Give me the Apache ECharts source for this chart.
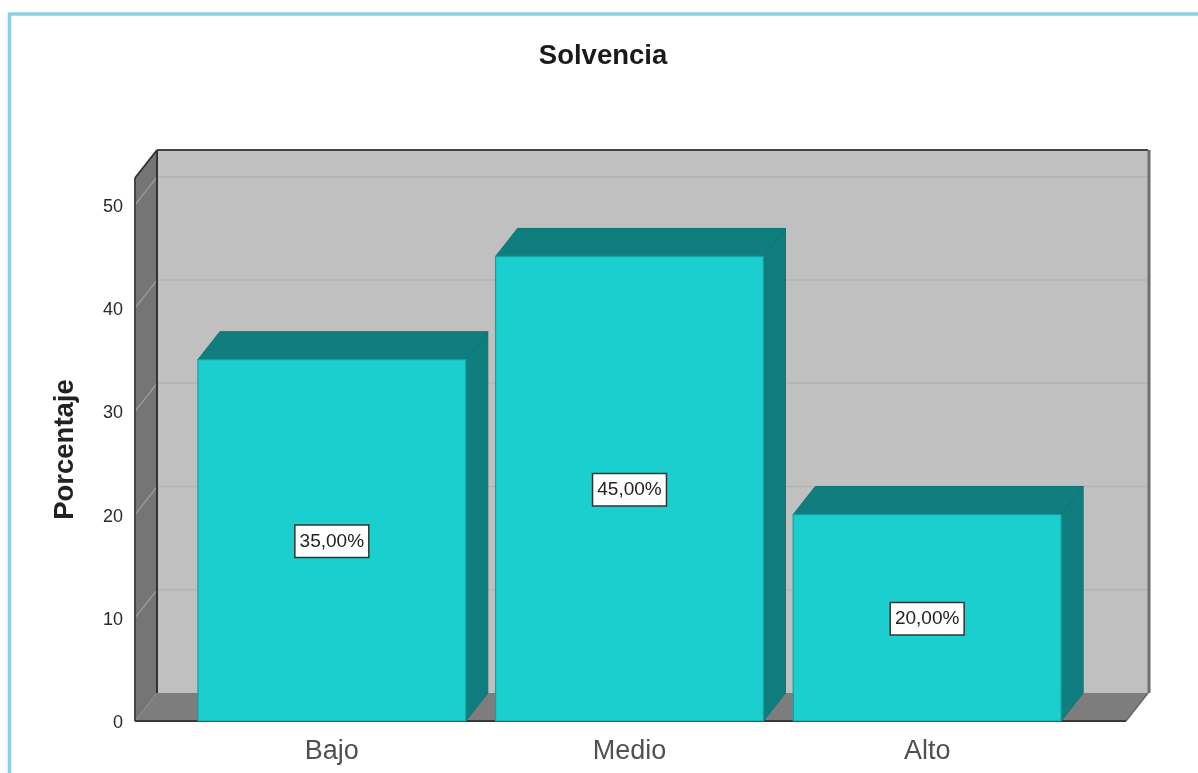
<!DOCTYPE html>
<html>
<head>
<meta charset="utf-8">
<style>html,body{margin:0;padding:0;background:#fff}#c{width:1198px;height:773px}</style>
<script src="https://cdn.jsdelivr.net/npm/echarts@6/dist/echarts.min.js"></script>
</head>
<body>
<div id="c"></div>
<script>
const categories = ['Bajo', 'Medio', 'Alto'];
const values = [35, 45, 20];
const valueLabels = ['35,00%', '45,00%', '20,00%'];
const yTicks = [0, 10, 20, 30, 40, 50];
const wallTicks = [10, 20, 30, 40, 50];

const DX = 22, DY = -28;
const FONT = '"Liberation Sans", Arial, sans-serif';

function poly(points, fill, stroke, lw) {
  return { type: 'polygon', shape: { points }, style: { fill, stroke: stroke || null, lineWidth: lw || 0 } };
}
function line(x1, y1, x2, y2, stroke, lw) {
  return { type: 'line', shape: { x1, y1, x2, y2 }, style: { stroke, lineWidth: lw } };
}

function renderChrome(params, api) {
  const r = params.coordSys;
  const L = r.x - 48, R = r.x + r.width + 50, T = r.y, B = r.y + r.height;
  const kids = [];
  kids.push(poly([[L + DX, T + DY], [R + DX, T + DY], [R + DX, B + DY], [L + DX, B + DY]], '#c0c0c0'));
  kids.push(poly([[L, T], [L + DX, T + DY], [L + DX, B + DY], [L, B]], '#757575'));
  kids.push(poly([[L, B], [L + DX, B + DY], [R + DX, B + DY], [R, B]], '#7d7d7d'));
  wallTicks.forEach(v => {
    const y = api.coord([0, v])[1];
    kids.push(line(L + DX, y + DY, R + DX, y + DY, '#b3b3b3', 1.5));
    kids.push(line(L, y, L + DX, y + DY, '#a0a0a0', 1.2));
  });
  kids.push(line(L, B, L + DX, B + DY, '#8e8e8e', 1));
  kids.push(line(L + DX, T + DY, R + DX, T + DY, '#444444', 2.2));
  kids.push(line(L + DX, T + DY, L + DX, B + DY, '#333333', 2));
  kids.push(line(L, T, L + DX, T + DY, '#333333', 2));
  kids.push(line(L, T, L, B, '#444444', 2));
  kids.push(line(L, B, R, B, '#3a3a3a', 2));
  kids.push(line(R, B, R + DX, B + DY, '#666666', 1.5));
  kids.push(line(R + DX + 1, T + DY, R + DX + 1, B + DY, '#6e6e6e', 3));
  return { type: 'group', children: kids };
}

function renderBar(params, api) {
  const cat = api.value(0), val = api.value(1);
  const top = api.coord([cat, val]);
  const base = api.coord([cat, 0]);
  const w = api.size([1, 0])[0] * 0.9;
  const x0 = top[0] - w / 2, x1 = top[0] + w / 2, y0 = top[1], y1 = base[1];
  const mid = api.coord([cat, val / 2]);
  const dark = '#107e7e', edge = '#0e7272';
  return {
    type: 'group',
    children: [
      poly([[x1, y0], [x1 + DX, y0 + DY], [x1 + DX, y1 + DY], [x1, y1]], dark, edge, 1),
      poly([[x0, y0], [x0 + DX, y0 + DY], [x1 + DX, y0 + DY], [x1, y0]], dark, edge, 1),
      poly([[x0, y0], [x1, y0], [x1, y1], [x0, y1]], '#1bcfcf', '#12a0a0', 1.2),
      {
        type: 'text',
        z2: 10,
        style: {
          text: valueLabels[params.dataIndex],
          x: mid[0], y: mid[1] + 1,
          align: 'center', verticalAlign: 'middle',
          font: '19px ' + FONT,
          fill: '#222222',
          backgroundColor: '#ffffff',
          borderColor: '#333333',
          borderWidth: 1.5,
          padding: [6, 4, 6, 4]
        }
      }
    ]
  };
}

const chart = echarts.init(document.getElementById('c'), null, { renderer: 'canvas' });
chart.setOption({
  animation: false,
  backgroundColor: '#ffffff',
  title: {
    text: 'Solvencia',
    left: 598,
    top: 37,
    textAlign: 'center',
    textStyle: { fontFamily: FONT, fontWeight: 'bold', fontSize: 27.5, color: '#1a1a1a' }
  },
  grid: { left: 183, top: 178, width: 893, height: 543 },
  xAxis: {
    type: 'category',
    data: categories,
    axisLine: { show: false },
    axisTick: { show: false },
    axisLabel: { fontFamily: FONT, fontSize: 27, color: '#505050', margin: 17 }
  },
  yAxis: {
    type: 'value',
    min: 0,
    max: 52.6,
    name: 'Porcentaje',
    nameLocation: 'middle',
    nameGap: 104,
    nameTextStyle: { fontFamily: FONT, fontWeight: 'bold', fontSize: 27.5, color: '#222222' },
    axisLine: { show: false },
    axisTick: { show: false },
    splitLine: { show: false },
    axisLabel: {
      customValues: yTicks,
      margin: 60,
      formatter: '{t|{value}}',
      rich: { t: { fontFamily: FONT, fontSize: 18, color: '#2a2a2a', padding: [4, 0, 0, 0] } }
    }
  },
  graphic: [{
    type: 'polyline',
    shape: { points: [[9.5, 773], [9.5, 14], [1198, 14]] },
    style: { stroke: '#90cfe0', lineWidth: 3.6, fill: null },
    silent: true
  }],
  series: [
    {
      type: 'custom',
      coordinateSystem: 'cartesian2d',
      clip: false,
      silent: true,
      z: 1,
      renderItem: renderChrome,
      data: [[0, 0]]
    },
    {
      type: 'custom',
      coordinateSystem: 'cartesian2d',
      clip: false,
      silent: true,
      z: 2,
      renderItem: renderBar,
      data: values.map((v, i) => [i, v])
    }
  ]
});
</script>
</body>
</html>
